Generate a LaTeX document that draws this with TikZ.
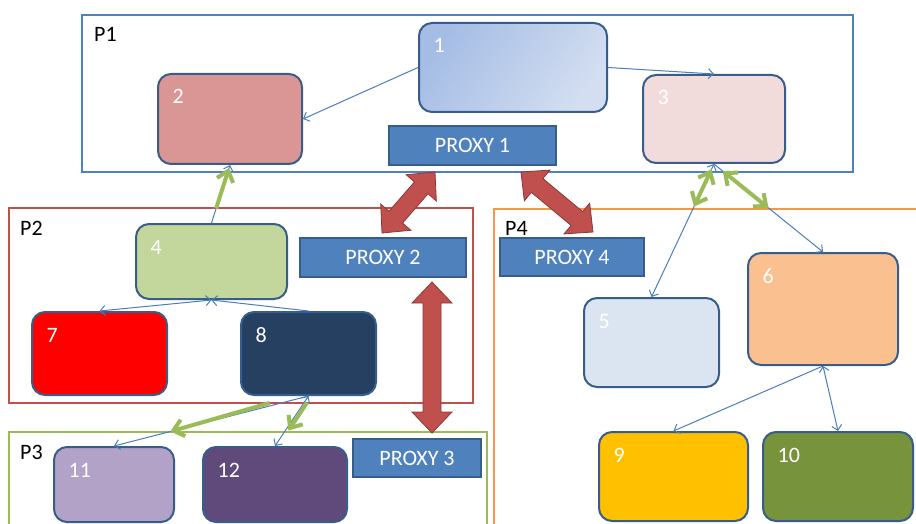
\documentclass[tikz,border=0pt]{standalone}
\usepackage{fontspec}
\setmainfont{Carlito}
\usetikzlibrary{calc,arrows.meta}

\definecolor{fblue}{HTML}{4F81BD}
\definecolor{fred}{HTML}{C0504D}
\definecolor{fgreen}{HTML}{9BBB59}
\definecolor{forange}{HTML}{F79646}
\definecolor{edge}{HTML}{385D8A}
\definecolor{link}{HTML}{4A7EBB}
\definecolor{arrowred}{HTML}{C0504D}
\definecolor{arrowrim}{HTML}{8C3836}
\definecolor{cA}{HTML}{A5BDE5}
\definecolor{cAl}{HTML}{D3DEF1}
\definecolor{cB}{HTML}{D99694}
\definecolor{cC}{HTML}{F2DCDB}
\definecolor{cD}{HTML}{C3D69B}
\definecolor{cE}{HTML}{DBE5F1}
\definecolor{cF}{HTML}{FAC090}
\definecolor{cG}{HTML}{FF0000}
\definecolor{cH}{HTML}{254061}
\definecolor{cI}{HTML}{FFC000}
\definecolor{cJ}{HTML}{77933C}
\definecolor{cK}{HTML}{B2A2C7}
\definecolor{cL}{HTML}{604A7B}

% double-headed block arrow between two points
\newcommand\blockarrow[2]{%
  \filldraw[blockarrow]
    (#1)
    -- ($(#1)!21pt!(#2)!20pt!90:(#2)$)
    -- ($(#1)!21pt!(#2)!9pt!90:(#2)$)
    -- ($(#2)!21pt!(#1)!9pt!270:(#1)$)
    -- ($(#2)!21pt!(#1)!20pt!270:(#1)$)
    -- (#2)
    -- ($(#2)!21pt!(#1)!20pt!90:(#1)$)
    -- ($(#2)!21pt!(#1)!9pt!90:(#1)$)
    -- ($(#1)!21pt!(#2)!9pt!270:(#2)$)
    -- ($(#1)!21pt!(#2)!20pt!270:(#2)$)
    -- cycle;}

\begin{document}
\begin{tikzpicture}[x=1pt,y=-1pt,
  frame/.style={line width=2.2pt},
  framelabel/.style={anchor=base west, inner sep=0pt, font=\fontsize{22}{26}\selectfont},
  box/.style={rectangle, rounded corners=13pt, draw=edge, line width=2pt, inner sep=0pt},
  proxy/.style={rectangle, draw=edge, line width=1.6pt, fill=fblue, text=white, inner sep=0pt,
                font=\fontsize{22}{26}\selectfont},
  num/.style={anchor=base west, inner sep=0pt, text=white, font=\fontsize{22}{26}\selectfont},
  link/.style={draw=link, line width=1pt},
  tip/.style={-{Straight Barb[length=5pt,width=10pt]}},
  btip/.style={{Straight Barb[length=5pt,width=10pt]}-{Straight Barb[length=5pt,width=10pt]}},
  green/.style={draw=fgreen, line width=4pt},
  gtip/.style={-{Straight Barb[length=10pt,width=17pt]}},
  gbtip/.style={{Straight Barb[length=10pt,width=17pt]}-{Straight Barb[length=10pt,width=17pt]}},
  blockarrow/.style={fill=arrowred, draw=arrowrim, line width=0.8pt, line join=miter}]

\useasboundingbox (0,0) rectangle (916,524);
\clip (0,0) rectangle (916,524);

% partition frames
\draw[frame, draw=fblue]   (82,15)  rectangle (853,172);
\draw[frame, draw=fred]    (9,208)  rectangle (473,403);
\draw[frame, draw=fgreen]  (9,432)  rectangle (487,560);
\draw[frame, draw=forange] (494,209) rectangle (960,560);
\node[framelabel] (lp1) at (94,42)  {P1};
\node[framelabel] (lp2) at (20,235) {P2};
\node[framelabel] (lp3) at (20,459) {P3};
\node[framelabel] (lp4) at (505,235) {P4};

% process boxes
\node[box, top color=cA, bottom color=cAl, shading angle=55,
      minimum width=188pt, minimum height=89pt] (b1) at (513,67.5) {};
\node[box, fill=cB, minimum width=144pt, minimum height=90pt]  (b2)  at (230,119) {};
\node[box, fill=cC, minimum width=142pt, minimum height=88pt]  (b3)  at (714,119) {};
\node[box, fill=cD, minimum width=151pt, minimum height=75pt]  (b4)  at (211.5,261.5) {};
\node[box, fill=cE, minimum width=135pt, minimum height=89pt]  (b5)  at (651.5,342.5) {};
\node[box, fill=cF, minimum width=150pt, minimum height=112pt] (b6)  at (823,309) {};
\node[box, fill=cG, minimum width=135pt, minimum height=83pt]  (b7)  at (99.5,353.5) {};
\node[box, fill=cH, minimum width=135pt, minimum height=83pt]  (b8)  at (308.5,353.5) {};
\node[box, fill=cI, minimum width=149pt, minimum height=89pt]  (b9)  at (673.5,476.5) {};
\node[box, fill=cJ, minimum width=150pt, minimum height=89pt]  (b10) at (838,476.5) {};
\node[box, fill=cK, minimum width=120pt, minimum height=75pt]  (b11) at (114,484.5) {};
\node[box, fill=cL, minimum width=144pt, minimum height=75pt]  (b12) at (275,484.5) {};

\foreach \b/\t in {b1/1,b2/2,b3/3,b4/4,b5/5,b6/6,b7/7,b8/8,b9/9,b10/10,b11/11,b12/12}
  \node[num] (n\b) at ($(\b.north west)+(15.5,31)$) {\t};

% proxies
\node[proxy, minimum width=167pt, minimum height=39pt] (px1) at (472.5,145.5) {PROXY 1};
\node[proxy, minimum width=166pt, minimum height=39pt] (px2) at (383,257.5)  {PROXY 2};
\node[proxy, minimum width=128pt, minimum height=38pt] (px3) at (417,458)    {PROXY 3};
\node[proxy, minimum width=144pt, minimum height=38pt] (px4) at (572,257)    {PROXY 4};

% thin links between processes
\draw[link, tip]  (b1.west)  -- (b2.east);
\draw[link, tip]  (b1.east)  -- (b3.north);
\draw[link, tip]  (b4.north) -- (b2.south);
\draw[link, btip] (b4.south) -- (b7.north);
\draw[link, tip]  (b8.north) -- (b4.south);
\draw[link, tip]  (b8.south) -- (b11.north);
\draw[link, btip] (b8.south) -- (b12.north);
\draw[link, btip] (b3.south) -- (b5.north);
\draw[link, tip]  (b3.south) -- (b6.north);
\draw[link, tip]  (b6.south) -- (b9.north);
\draw[link, btip] (b6.south) -- (b10.north);

% links that cross partitions
\draw[green, gtip]  ($(b4.north)!0.25!(b2.south)$) -- ($(b4.north)!0.95!(b2.south)$);
\draw[green, gtip]  ($(b8.south)!0.20!(b11.north)+(0,-3)$) -- ($(b8.south)!0.71!(b11.north)$);
\draw[green, gtip]  ($(b8.south)!0.13!(b12.north)+(3,0)$) -- ($(b8.south)!0.69!(b12.north)+(3,0)$);
\draw[green, gbtip] ($(b3.south)!0.04!(b5.north)$) -- ($(b3.south)!0.32!(b5.north)$);
\draw[green, gbtip] ($(b3.south)!0.08!(b6.north)$) -- ($(b3.south)!0.50!(b6.north)$);

% proxy channels
\coordinate (r1a) at (435,172);
\coordinate (r1b) at (382,233);
\coordinate (r2a) at (521,172);
\coordinate (r2b) at (593,232);
\coordinate (r3a) at (432,282);
\coordinate (r3b) at (432,433);
\blockarrow{r1a}{r1b}
\blockarrow{r2a}{r2b}
\blockarrow{r3a}{r3b}

\end{tikzpicture}
\end{document}
